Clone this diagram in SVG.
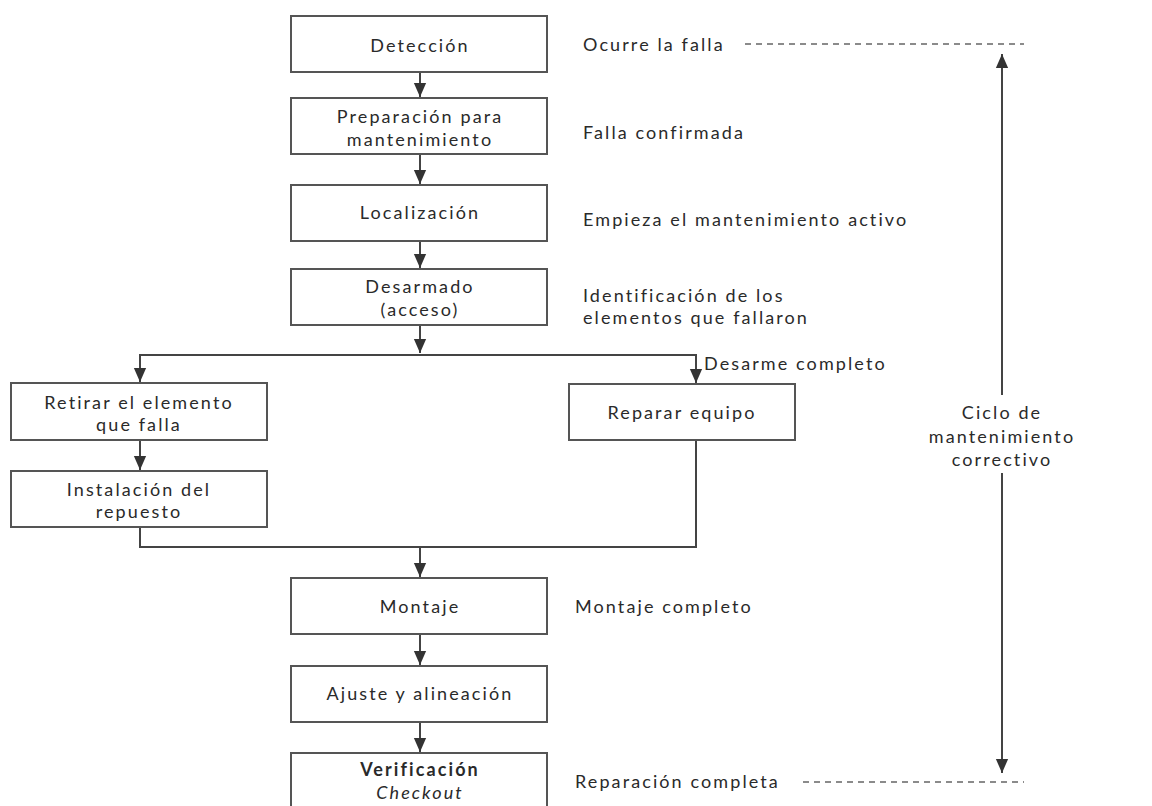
<svg xmlns="http://www.w3.org/2000/svg" width="1152" height="806" viewBox="0 0 1152 806">
<style>
.box{fill:#fff;stroke:#555;stroke-width:2}
.t{font-family:Lato,"Open Sans",sans-serif;font-size:18px;fill:#2a2a2a;letter-spacing:2.1px}
.c{text-anchor:middle}
.ln{fill:none;stroke:#444;stroke-width:2}
.dash{fill:none;stroke:#666;stroke-width:1.6;stroke-dasharray:6,5}
</style>
<defs>
<marker id="ah" markerUnits="userSpaceOnUse" markerWidth="14" markerHeight="14" viewBox="0 0 16 14" refX="16" refY="7" orient="auto">
<path d="M0,0 L16,7 L0,14 Z" fill="#333"/>
</marker>
</defs>
<rect width="1152" height="806" fill="#fff"/>
<g id="connectors">
<line class="ln" x1="420" y1="72" x2="420" y2="97" marker-end="url(#ah)"/>
<line class="ln" x1="420" y1="154" x2="420" y2="184" marker-end="url(#ah)"/>
<line class="ln" x1="420" y1="241" x2="420" y2="268" marker-end="url(#ah)"/>
<line class="ln" x1="420" y1="325" x2="420" y2="353" marker-end="url(#ah)"/>
<polyline class="ln" points="420,355 140,355 140,382" marker-end="url(#ah)"/>
<polyline class="ln" points="420,355 696,355 696,383" marker-end="url(#ah)"/>
<line class="ln" x1="140" y1="440" x2="140" y2="470" marker-end="url(#ah)"/>
<polyline class="ln" points="140,527 140,547 696,547 696,440"/>
<line class="ln" x1="420" y1="547" x2="420" y2="577" marker-end="url(#ah)"/>
<line class="ln" x1="420" y1="634" x2="420" y2="665" marker-end="url(#ah)"/>
<line class="ln" x1="420" y1="722" x2="420" y2="752" marker-end="url(#ah)"/>
<line class="dash" x1="745" y1="44" x2="1024" y2="44"/>
<line class="dash" x1="803" y1="782" x2="1024" y2="782"/>
<line class="ln" x1="1002" y1="395" x2="1002" y2="54" stroke="#555" marker-end="url(#ah)"/>
<line class="ln" x1="1002" y1="473" x2="1002" y2="773" stroke="#555" marker-end="url(#ah)"/>
</g>
<g id="n-deteccion"><rect class="box" x="291" y="16" width="256" height="56"/><text class="t c" x="420" y="52">Detección</text></g>
<g id="n-preparacion"><rect class="box" x="291" y="98" width="256" height="56"/><text class="t c" x="420" y="123">Preparación para<tspan x="420" dy="23">mantenimiento</tspan></text></g>
<g id="n-localizacion"><rect class="box" x="291" y="185" width="256" height="56"/><text class="t c" x="420" y="219">Localización</text></g>
<g id="n-desarmado"><rect class="box" x="291" y="269" width="256" height="56"/><text class="t c" x="420" y="293">Desarmado<tspan x="420" dy="23">(acceso)</tspan></text></g>
<g id="n-retirar"><rect class="box" x="11" y="383" width="256" height="57"/><text class="t c" x="139" y="409">Retirar el elemento<tspan x="139" dy="22">que falla</tspan></text></g>
<g id="n-instalacion"><rect class="box" x="11" y="471" width="256" height="56"/><text class="t c" x="139" y="496">Instalación del<tspan x="139" dy="22">repuesto</tspan></text></g>
<g id="n-reparar"><rect class="box" x="569" y="384" width="226" height="56"/><text class="t c" x="682" y="419">Reparar equipo</text></g>
<g id="n-montaje"><rect class="box" x="291" y="578" width="256" height="56"/><text class="t c" x="420" y="613">Montaje</text></g>
<g id="n-ajuste"><rect class="box" x="291" y="666" width="256" height="56"/><text class="t c" x="420" y="700">Ajuste y alineación</text></g>
<g id="n-verificacion"><rect class="box" x="291" y="753" width="256" height="70"/><text class="t c" x="420" y="776"><tspan font-weight="bold">Verificación</tspan><tspan x="420" dy="23" font-style="italic">Checkout</tspan></text></g>
<g id="labels">
<text class="t" x="583" y="51">Ocurre la falla</text>
<text class="t" x="583" y="139">Falla confirmada</text>
<text class="t" x="583" y="226">Empieza el mantenimiento activo</text>
<text class="t" x="583" y="302">Identificación de los<tspan x="583" dy="22">elementos que fallaron</tspan></text>
<text class="t" x="704" y="370">Desarme completo</text>
<text class="t" x="575" y="613">Montaje completo</text>
<text class="t" x="575" y="788">Reparación completa</text>
<text class="t c" x="1002" y="419">Ciclo de<tspan x="1002" dy="24">mantenimiento</tspan><tspan x="1002" dy="23">correctivo</tspan></text>
</g>
</svg>
